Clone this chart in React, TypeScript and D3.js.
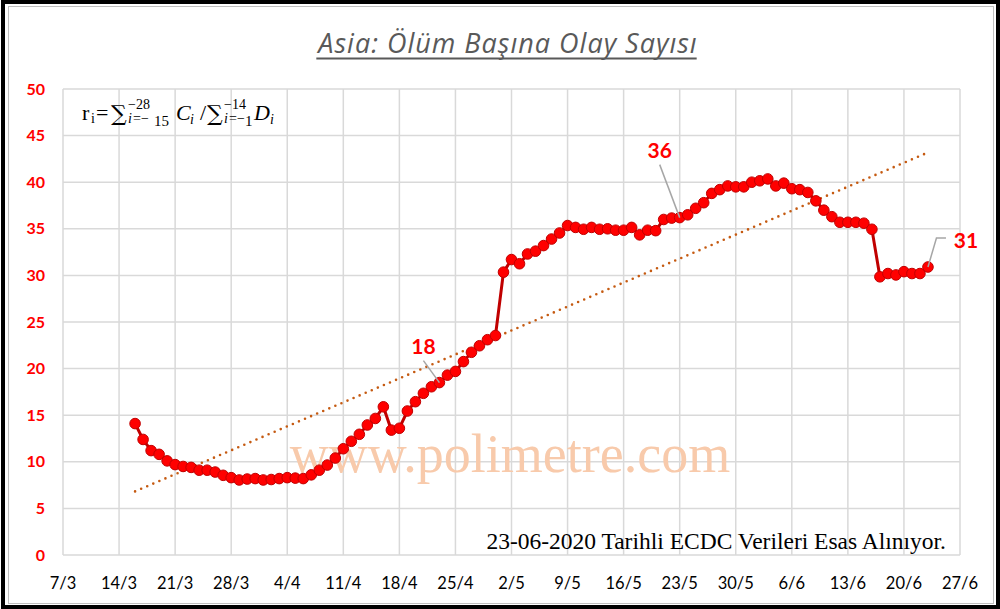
import { useEffect, useRef } from "react";
import * as d3 from "d3";

const W = 1000;
const H = 609;

// daily series, first point 16/3/2020
const startDate = "2020-03-16";
const values = [
  14.1, 12.4, 11.2, 10.8, 10.1, 9.7, 9.5, 9.4, 9.1, 9.1,
  8.9, 8.55, 8.3, 8.05, 8.15, 8.2, 8.05, 8.1, 8.2, 8.3,
  8.25, 8.2, 8.6, 9.1, 9.65, 10.4, 11.4, 12.2, 12.95, 13.95,
  14.65, 15.9, 13.4, 13.6, 15.45, 16.45, 17.35, 18.05, 18.5, 19.3,
  19.7, 20.75, 21.75, 22.45, 23.1, 23.55, 30.35, 31.7, 31.25, 32.3,
  32.6, 33.2, 33.9, 34.55, 35.35, 35.15, 34.95, 35.15, 34.95, 35.0,
  34.85, 34.85, 35.15, 34.35, 34.85, 34.8, 36.0, 36.15, 36.2, 36.5,
  37.2, 37.8, 38.8, 39.2, 39.6, 39.5, 39.5, 40.0, 40.15, 40.35,
  39.6, 39.9, 39.3, 39.2, 38.9, 38.0, 37.0, 36.3, 35.7, 35.7,
  35.7, 35.6, 34.95, 29.85, 30.2, 30.05, 30.4, 30.2, 30.2, 30.9,
];

const xTickLabels = ["7/3", "14/3", "21/3", "28/3", "4/4", "11/4", "18/4", "25/4", "2/5", "9/5", "16/5", "23/5", "30/5", "6/6", "13/6", "20/6", "27/6"];
const yTicks = [0, 5, 10, 15, 20, 25, 30, 35, 40, 45, 50];

const callouts = [
  { index: 38, text: "18", dx: -16, dy: -36 },
  { index: 68, text: "36", dx: -20, dy: -67 },
  { index: 99, text: "31", dx: 38, dy: -26 },
];

const title = "Asia: Ölüm Başına Olay Sayısı";
const footer = "23-06-2020 Tarihli ECDC Verileri Esas Alınıyor.";
const watermark = "www.polimetre.com";

export default function App() {
  const ref = useRef<SVGSVGElement>(null);

  useEffect(() => {
    if (!ref.current) return;
    const svg = d3.select(ref.current);
    svg.selectAll("*").remove();

    const left = 63, right = 960, top = 89, bottom = 555;
    const parse = d3.utcParse("%Y-%m-%d");
    const start = parse(startDate)!;
    const dates = values.map((_, i) => d3.utcDay.offset(start, i));
    const axisStart = parse("2020-03-07")!;
    const tickDates = xTickLabels.map((_, i) => d3.utcDay.offset(axisStart, i * 7));

    const x = d3.scaleUtc().domain([tickDates[0], tickDates[tickDates.length - 1]]).range([left, right]);
    const y = d3.scaleLinear().domain([0, 50]).range([bottom, top]);

    // frame
    svg.append("rect").attr("width", W).attr("height", H).attr("fill", "#fff");
    svg.append("rect").attr("x", 3).attr("y", 2).attr("width", W - 5).attr("height", H - 4)
      .attr("fill", "none").attr("stroke", "#000").attr("stroke-width", 4);
    svg.append("rect").attr("x", 8.5).attr("y", 6.5).attr("width", W - 15).attr("height", H - 12)
      .attr("fill", "none").attr("stroke", "#bfbfbf").attr("stroke-width", 1);

    // grid
    const grid = svg.append("g").attr("stroke", "#d9d9d9").attr("stroke-width", 1.5);
    grid.selectAll("line.h").data(yTicks).join("line")
      .attr("x1", left).attr("x2", right).attr("y1", d => y(d)).attr("y2", d => y(d));
    grid.selectAll("line.v").data(tickDates).join("line")
      .attr("x1", d => x(d)).attr("x2", d => x(d)).attr("y1", top).attr("y2", bottom);

    // axes labels
    svg.append("g").selectAll("text").data(yTicks).join("text")
      .attr("x", 45).attr("y", d => y(d)).attr("dy", "0.35em")
      .attr("text-anchor", "end").attr("fill", "#ff0000")
      .attr("font-family", "Lato, sans-serif").attr("font-weight", 700).attr("font-size", 16)
      .text(d => d);
    svg.append("g").selectAll("text").data(tickDates).join("text")
      .attr("x", d => x(d)).attr("y", 589)
      .attr("text-anchor", "middle").attr("fill", "#000")
      .attr("font-family", "Lato, sans-serif").attr("font-size", 16.5)
      .text((_, i) => xTickLabels[i]);

    // watermark
    svg.append("text").attr("x", 510).attr("y", 472).attr("text-anchor", "middle")
      .attr("font-family", "'Liberation Serif', serif").attr("font-size", 54)
      .attr("fill", "#f8caab").text(watermark);

    // trendline (least squares over day index)
    const xs = values.map((_, i) => i);
    const mx = d3.mean(xs)!, my = d3.mean(values)!;
    const slope = d3.sum(xs, (xi, i) => (xi - mx) * (values[i] - my)) / d3.sum(xs, xi => (xi - mx) ** 2);
    const icpt = my - slope * mx;
    const n = values.length - 1;
    svg.append("line")
      .attr("x1", x(dates[0])).attr("y1", y(icpt))
      .attr("x2", x(dates[n])).attr("y2", y(icpt + slope * n))
      .attr("stroke", "#c55a11").attr("stroke-width", 2.6)
      .attr("stroke-linecap", "round").attr("stroke-dasharray", "0 6.6");

    // series
    const line = d3.line<number>().x((_, i) => x(dates[i])).y(d => y(d));
    svg.append("path").datum(values).attr("d", line)
      .attr("fill", "none").attr("stroke", "#c00000").attr("stroke-width", 3);
    svg.append("g").selectAll("circle").data(values).join("circle")
      .attr("cx", (_, i) => x(dates[i])).attr("cy", d => y(d)).attr("r", 5.3)
      .attr("fill", "#ff0000").attr("stroke", "#c00000").attr("stroke-width", 1);

    // callouts
    callouts.forEach(c => {
      const px = x(dates[c.index]);
      const py = y(values[c.index]);
      const g = svg.append("g");
      if (c.text === "31") {
        g.append("polyline")
          .attr("points", `${px},${py} ${px + 8.5},${py - 29} ${px + 18},${py - 29}`)
          .attr("fill", "none").attr("stroke", "#a6a6a6").attr("stroke-width", 1.5);
      } else {
        g.append("line").attr("x1", px).attr("y1", py).attr("x2", px + c.dx).attr("y2", py + c.dy + 14)
          .attr("stroke", "#a6a6a6").attr("stroke-width", 1.5);
      }
      g.append("text").attr("x", px + c.dx).attr("y", py + c.dy).attr("dy", "0.35em")
        .attr("text-anchor", "middle").attr("fill", "#ff0000")
        .attr("font-family", "Lato, sans-serif").attr("font-weight", 700).attr("font-size", 21)
        .text(c.text);
    });

    // formula
    const f = svg.append("g").attr("font-family", "'Liberation Serif', serif").attr("fill", "#000");
    const base = 120;
    const put = (tx: string, px: number, py: number, size: number, italic = false, fam?: string) => {
      const el = f.append("text").attr("x", px).attr("y", py).attr("font-size", size)
        .attr("font-style", italic ? "italic" : "normal").text(tx);
      if (fam) el.attr("font-family", fam);
    };
    put("r", 82, base, 22);
    put("i", 91, base + 3, 14);
    put("=", 96, base, 22);
    put("∑", 111, base + 1, 22, false, "'DejaVu Serif', serif");
    put("−28", 128, base - 11, 14);
    put("i", 128, base + 3, 14, true);
    put("=−", 133, base + 3, 14);
    put("15", 154, base + 6, 15);
    put("C", 176, base, 22, true);
    put("i", 190, base + 4, 14, true);
    put("/", 200, base, 22);
    put("∑", 207, base + 1, 22, false, "'DejaVu Serif', serif");
    put("−14", 224, base - 11, 14);
    put("i", 224, base + 3, 14, true);
    put("=−", 229, base + 3, 14);
    put("1", 245, base + 6, 15);
    put("D", 254, base, 22, true);
    put("i", 270, base + 4, 14, true);

    // title
    const t = svg.append("text").attr("x", 508).attr("y", 53).attr("text-anchor", "middle")
      .attr("font-family", "'Open Sans', sans-serif").attr("font-style", "italic").attr("font-weight", 400)
      .attr("font-size", 27).attr("letter-spacing", 1).attr("fill", "#595959").text(title);
    const bb = (t.node() as SVGTextElement).getBBox();
    svg.append("line").attr("x1", bb.x).attr("x2", bb.x + bb.width - 1).attr("y1", 58.5).attr("y2", 58.5)
      .attr("stroke", "#595959").attr("stroke-width", 2);

    // footer
    svg.append("text").attr("x", 946).attr("y", 549).attr("text-anchor", "end")
      .attr("font-family", "'Liberation Serif', serif").attr("font-size", 23.5)
      .attr("fill", "#000").text(footer);
  }, []);

  return (
    <svg ref={ref} width={W} height={H} style={{ position: "absolute", left: 0, top: 0 }} />
  );
}
